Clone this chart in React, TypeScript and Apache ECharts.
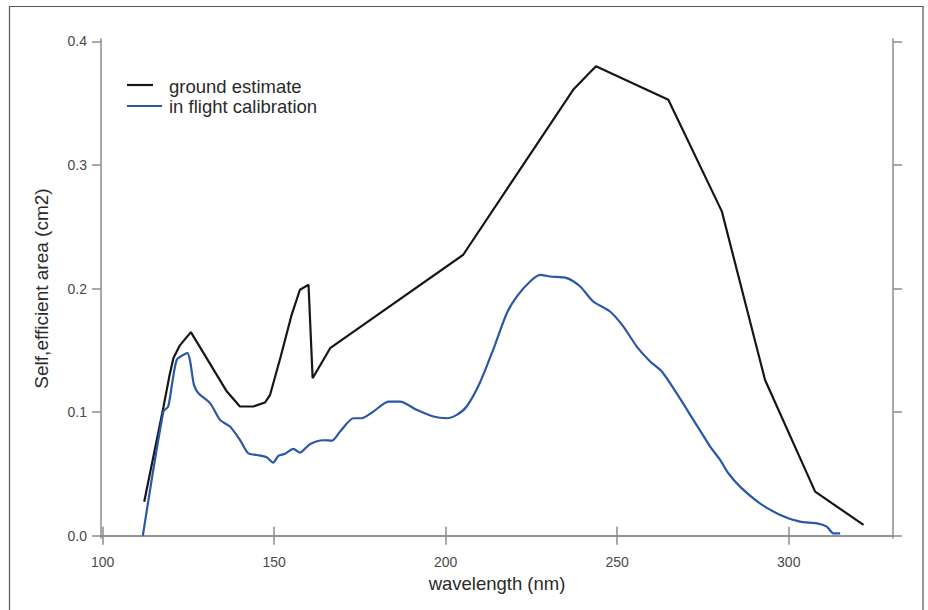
import React, { useEffect, useRef } from "react";
import * as echarts from "echarts";

// ground estimate (wavelength nm, effective area cm2)
const groundX = [112.1, 117.7, 119.5, 120.6, 122.5, 125.7, 136.2, 140, 143.9, 147.3, 148.8, 151.9, 155, 157.5, 160, 161.2, 166.3, 205.1, 237.2, 243.8, 264.9, 280.5, 293.1, 307.7, 321.8];
const groundY = [0.0275, 0.104, 0.13, 0.1436, 0.154, 0.1647, 0.1166, 0.1045, 0.1045, 0.1077, 0.114, 0.145, 0.178, 0.199, 0.203, 0.1274, 0.1517, 0.2273, 0.361, 0.3798, 0.3528, 0.2624, 0.126, 0.0356, 0.0087];

// in flight calibration
const flightX = [111.7, 117.7, 119.1, 120.4, 121.6, 123.5, 124.7, 125.5, 126.6, 127.9, 131.3, 134.2, 137.1, 140, 142.4, 144.9, 147.8, 149.7, 151.2, 153.1, 155.6, 157.5, 160.4, 164.3, 166.8, 169.2, 173.1, 175.5, 178.9, 183.3, 186.7, 191.5, 196.4, 200.3, 203.2, 206.1, 210, 213.9, 217.8, 220.7, 224.6, 227.5, 230.4, 235.3, 239.2, 243, 247.9, 251.8, 255.7, 259.6, 263, 267.3, 272.2, 277.1, 280, 282.4, 285.8, 291.6, 297.5, 303.3, 308.2, 311.1, 313, 315];
const flightY = [0, 0.1004, 0.1045, 0.126, 0.1423, 0.1463, 0.1477, 0.141, 0.122, 0.1153, 0.1072, 0.0937, 0.0883, 0.0775, 0.0667, 0.0653, 0.0634, 0.0591, 0.0645, 0.0662, 0.0702, 0.0672, 0.074, 0.0772, 0.0769, 0.0842, 0.095, 0.095, 0.1004, 0.1085, 0.1085, 0.1018, 0.0964, 0.095, 0.0977, 0.1045, 0.124, 0.151, 0.18, 0.1935, 0.2057, 0.2111, 0.2097, 0.2084, 0.2016, 0.1895, 0.1814, 0.1692, 0.153, 0.1409, 0.1328, 0.1153, 0.0937, 0.0721, 0.0613, 0.0505, 0.0397, 0.0262, 0.0168, 0.0113, 0.01, 0.0073, 0.0019, 0.0019];

const xTicks = [100, 150, 200, 250, 300];
const yTicks = [0, 0.1, 0.2, 0.3, 0.4];

const seriesNames = ["ground estimate", "in flight calibration"];
const xTitle = "wavelength (nm)";
const yTitle = "Self,efficient area (cm2)";

const FONT = "'Liberation Sans', Arial, Helvetica, sans-serif";
const AXIS_COLOR = "#8c8c8c";
const BLACK = "#161616";
const BLUE = "#2b57a7";

export default function App() {
  const ref = useRef<HTMLDivElement>(null);

  useEffect(() => {
    if (!ref.current) return;
    const chart = echarts.init(ref.current, undefined, { renderer: "svg" });

    const axisLine = { show: true, lineStyle: { color: AXIS_COLOR, width: 1.5 } };
    const tick = (vals: number[]) => ({
      show: true,
      inside: false,
      length: 9,
      customValues: vals,
      lineStyle: { color: AXIS_COLOR, width: 1.5 },
    });

    chart.setOption({
      animation: false,
      backgroundColor: "#ffffff",
      grid: { left: 101, right: 35, top: 39, bottom: 72, containLabel: false },
      xAxis: [
        {
          type: "value",
          position: "bottom",
          min: 99.5,
          max: 330.4,
          axisLine,
          axisTick: tick(xTicks),
          splitLine: { show: false },
          axisLabel: {
            customValues: xTicks,
            margin: 17,
            fontSize: 14,
            color: "#4a4a4a",
            fontFamily: FONT,
          },
          name: xTitle,
          nameLocation: "middle",
          nameGap: 34,
          nameTextStyle: { fontSize: 18.5, color: "#2a2a2a", fontFamily: FONT },
        },
        {
          type: "value",
          position: "top",
          min: 99.5,
          max: 330.4,
          axisLine,
          axisTick: tick(xTicks),
          splitLine: { show: false },
          axisLabel: { show: false },
        },
      ],
      yAxis: [
        {
          type: "value",
          position: "left",
          min: -0.0019,
          max: 0.4019,
          axisLine,
          axisTick: tick(yTicks),
          splitLine: { show: false },
          axisLabel: {
            customValues: yTicks,
            margin: 14,
            fontSize: 14,
            color: "#4a4a4a",
            fontFamily: FONT,
            formatter: (v: number) => v.toFixed(1),
          },
          name: yTitle,
          nameLocation: "middle",
          nameGap: 50,
          nameRotate: 90,
          nameTextStyle: { fontSize: 19, color: "#2a2a2a", fontFamily: FONT },
        },
        {
          type: "value",
          position: "right",
          min: -0.0019,
          max: 0.4019,
          axisLine,
          axisTick: tick(yTicks),
          splitLine: { show: false },
          axisLabel: { show: false },
        },
      ],
      series: [
        {
          name: seriesNames[0],
          type: "line",
          xAxisIndex: 0,
          yAxisIndex: 0,
          showSymbol: false,
          data: groundX.map((x, i) => [x, groundY[i]]),
          lineStyle: { color: BLACK, width: 2.2 },
          itemStyle: { color: BLACK },
        },
        {
          name: seriesNames[1],
          type: "line",
          xAxisIndex: 0,
          yAxisIndex: 0,
          showSymbol: false,
          smooth: 0.25,
          data: flightX.map((x, i) => [x, flightY[i]]),
          lineStyle: { color: BLUE, width: 2.2 },
          itemStyle: { color: BLUE },
        },
      ],
      graphic: [
        {
          type: "rect",
          shape: { x: 9.5, y: 6.5, width: 913.5, height: 620 },
          style: { fill: "none", stroke: "#555555", lineWidth: 1.2 },
          silent: true,
        },
        {
          type: "line",
          shape: { x1: 127, y1: 85, x2: 153, y2: 85 },
          style: { stroke: BLACK, lineWidth: 2.2 },
        },
        {
          type: "line",
          shape: { x1: 127, y1: 106, x2: 162, y2: 106 },
          style: { stroke: BLUE, lineWidth: 2.2 },
        },
        {
          type: "text",
          x: 169,
          y: 86,
          style: {
            text: seriesNames[0],
            fontSize: 18.5,
            fontFamily: FONT,
            fill: "#2a2a2a",
            verticalAlign: "middle",
            align: "left",
          },
        },
        {
          type: "text",
          x: 169,
          y: 106.5,
          style: {
            text: seriesNames[1],
            fontSize: 18.5,
            fontFamily: FONT,
            fill: "#2a2a2a",
            verticalAlign: "middle",
            align: "left",
          },
        },
      ],
    });

    return () => chart.dispose();
  }, []);

  return (
    <div
      ref={ref}
      style={{ position: "fixed", left: 0, top: 0, width: 928, height: 610, background: "#fff" }}
    />
  );
}
